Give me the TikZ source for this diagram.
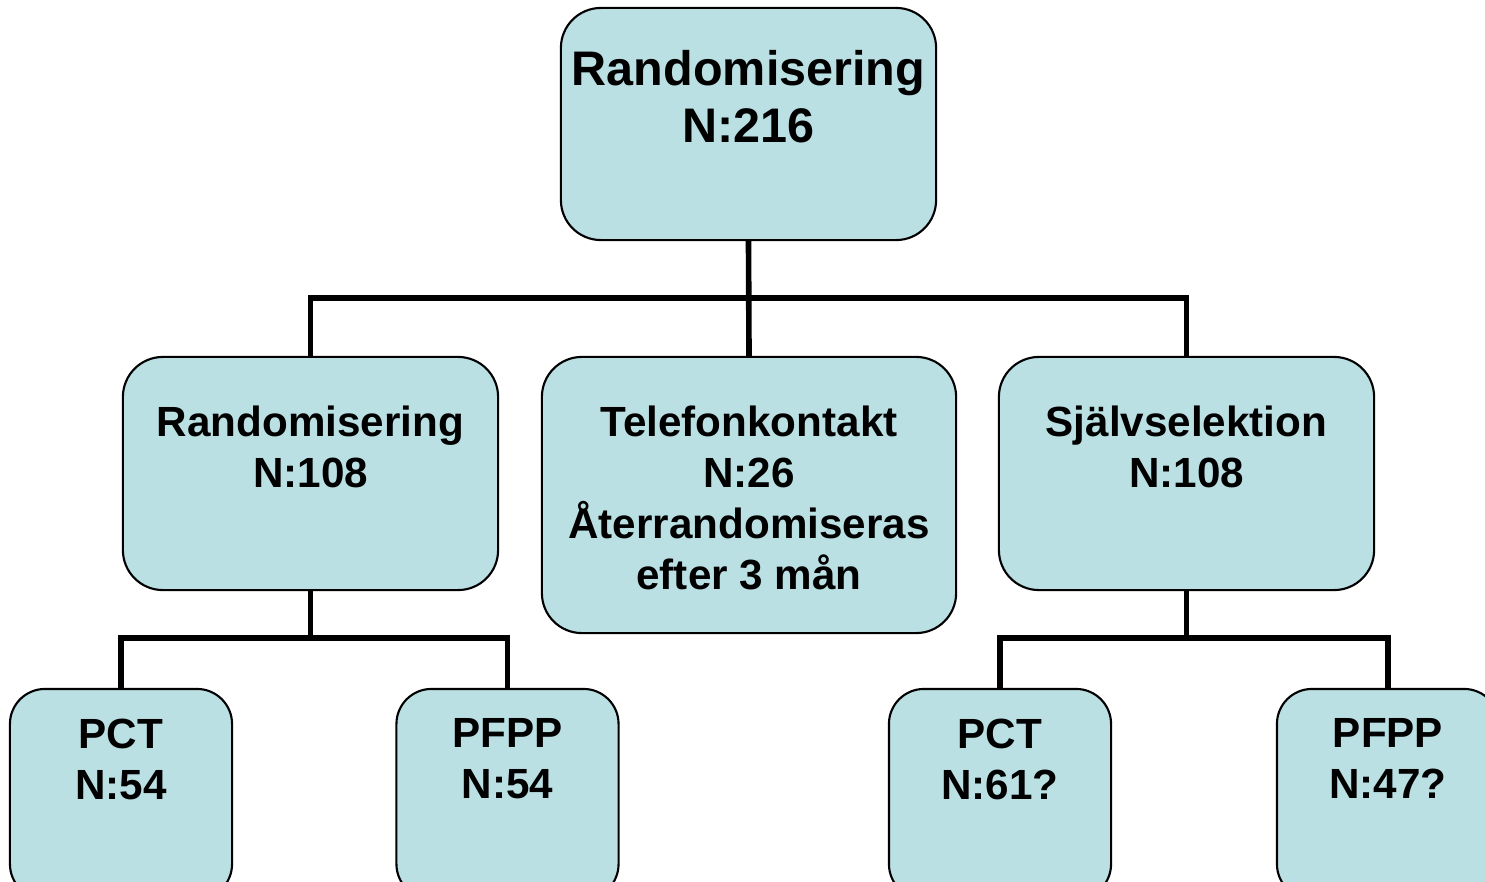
\documentclass[tikz,border=0pt]{standalone}
\usepackage{fontspec}
\setmainfont{Liberation Sans}
\definecolor{boxfill}{RGB}{186,224,228}
\tikzset{
  box/.style={draw=black, line width=0.6pt, fill=boxfill, rounded corners=0.4cm, inner sep=0pt},
  smallbox/.style={box, rounded corners=0.35cm, minimum width=2.22cm, minimum height=2.1cm},
  midbox/.style={box, minimum width=3.75cm, minimum height=2.33cm},
  bigtxt/.style={anchor=north, inner sep=0pt, align=center, font=\fontsize{13.8pt}{16pt}\selectfont\bfseries},
  txt/.style={anchor=north, inner sep=0pt, align=center, font=\fontsize{12pt}{14.5pt}\selectfont\bfseries},
  link/.style={line width=1.6pt}
}
\begin{document}
\begin{tikzpicture}[x=0.01cm,y=-0.01cm]
\clip (0,0) rectangle (1485,882);

% boxes
\node[box, minimum width=3.75cm, minimum height=2.32cm] (rand-top) at (748.5,124) {};
\node[midbox] (rand-mid) at (310.5,473.5) {};
\node[box, minimum width=4.14cm, minimum height=2.76cm] (tel) at (749,495) {};
\node[midbox] (self) at (1186.5,473.5) {};
\node[smallbox] (pct-a) at (121,794) {};
\node[smallbox] (pfpp-a) at (507.5,794) {};
\node[smallbox] (pct-b) at (1000,794) {};
\node[smallbox] (pfpp-b) at (1388,794) {};

% texts
\node[bigtxt] (rand-top-txt) at (748.5,50) {Randomisering\\N:216};
\node[txt] (rand-mid-txt) at (310.5,405) {Randomisering\\N:108};
\node[txt] (tel-txt) at (749,405) {Telefonkontakt\\N:26\\Återrandomiseras\\efter 3 mån};
\node[txt] (self-txt) at (1186.5,405) {Självselektion\\N:108};
\node[txt] (pct-a-txt) at (121,718) {PCT\\N:54};
\node[txt] (pfpp-a-txt) at (507.5,718) {PFPP\\N:54};
\node[txt] (pct-b-txt) at (1000,718) {PCT\\N:61?};
\node[txt] (pfpp-b-txt) at (1388,718) {PFPP\\N:47?};

% connectors
\coordinate (bus-top) at (748.5,298);
\coordinate (bus-l) at (310.5,638);
\coordinate (bus-r) at (1186.5,638);
\draw[link] (rand-top.south) -- (tel.north);
\draw[link] (rand-mid.north) |- (bus-top) -| (self.north);
\draw[link] (rand-mid.south) -- (bus-l);
\draw[link] (pct-a.north) |- (bus-l) -| (pfpp-a.north);
\draw[link] (self.south) -- (bus-r);
\draw[link] (pct-b.north) |- (bus-r) -| (pfpp-b.north);
\end{tikzpicture}
\end{document}
